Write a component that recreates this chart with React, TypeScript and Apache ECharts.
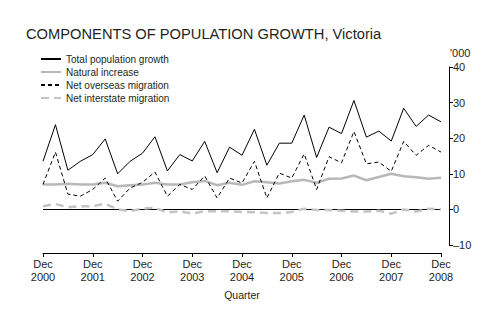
import React, { useEffect, useRef } from "react";
import * as echarts from "echarts";

const quarterNames = ["Mar", "Jun", "Sep", "Dec"];
const categories: string[] = ["Dec 2000"];
for (let y = 2001; y <= 2008; y++) {
  for (const q of quarterNames) categories.push(q + " " + y);
}

const totalGrowth = [13.5, 23.8, 11.0, 13.5, 15.4, 19.8, 10.0, 13.5, 15.8, 20.4, 10.8, 15.4, 13.6, 19.1, 10.3, 17.5, 15.2, 22.5, 12.4, 18.6, 18.6, 26.5, 14.6, 23.1, 21.3, 30.6, 20.3, 22.0, 19.2, 28.4, 23.3, 26.5, 24.6];
const naturalIncrease = [7.0, 7.0, 7.2, 7.0, 7.0, 7.5, 6.5, 6.8, 7.0, 7.5, 7.0, 7.0, 7.6, 8.0, 6.8, 7.5, 6.9, 7.9, 7.6, 7.3, 7.9, 8.3, 7.5, 8.6, 8.7, 9.5, 8.2, 9.1, 10.0, 9.3, 9.0, 8.6, 8.9];
const overseasMigration = [7.0, 16.1, 4.3, 3.7, 5.6, 8.8, 2.3, 6.0, 7.6, 10.5, 3.7, 7.0, 5.6, 9.4, 3.2, 8.8, 7.4, 13.5, 3.2, 10.2, 8.8, 15.6, 5.6, 14.8, 13.1, 21.9, 12.8, 13.3, 10.7, 19.1, 15.2, 18.0, 16.1];
const interstateMigration = [0.9, 1.5, 0.6, 0.9, 0.9, 1.6, 0.0, -0.5, 0.2, 0.5, -0.9, -0.5, -1.2, -0.5, -0.5, -0.5, -0.7, -0.8, -1.0, -1.0, -0.7, 0.2, -0.2, -0.2, -0.4, -0.6, -0.6, -0.4, -1.2, 0.0, -0.6, 0.2, 0.0];

const yTicks = { min: -10, max: 40, interval: 10 };

const FONT = "'Liberation Sans', Arial, sans-serif";
const TEXT = "#231f20";

export default function App() {
  const ref = useRef<HTMLDivElement>(null);
  useEffect(() => {
    if (!ref.current) return;
    const chart = echarts.init(ref.current, null, { renderer: "svg" });
    chart.setOption({
      animation: false,
      backgroundColor: "#ffffff",
      textStyle: { fontFamily: FONT, color: TEXT },
      grid: { left: 43, right: 55, top: 67, bottom: 76, containLabel: false },
      graphic: [
        {
          type: "text",
          left: 26,
          top: 26,
          style: {
            text: "COMPONENTS OF POPULATION GROWTH, Victoria",
            font: "14.7px " + FONT,
            fill: TEXT,
          },
        },
        {
          type: "text",
          left: 450,
          top: 47,
          style: { text: "'000", font: "11px " + FONT, fill: TEXT },
        },
      ],
      legend: {
        left: 40,
        top: 54,
        padding: 0,
        orient: "vertical",
        itemWidth: 20,
        itemHeight: 10,
        itemGap: 3,
        itemStyle: { opacity: 0 },
        textStyle: { fontSize: 10, color: TEXT, fontFamily: FONT },
        data: [
          "Total population growth",
          "Natural increase",
          "Net overseas migration",
          "Net interstate migration",
        ],
      },
      xAxis: {
        type: "category",
        data: categories,
        boundaryGap: false,
        offset: 8,
        name: "Quarter",
        nameLocation: "middle",
        nameGap: 36,
        nameTextStyle: { fontSize: 10.5, color: TEXT, fontFamily: FONT },
        axisLine: { show: true, onZero: false, lineStyle: { color: "#000", width: 1 } },
        axisTick: {
          show: true,
          length: 4,
          interval: (i: number) => i % 4 === 0,
          lineStyle: { color: "#000" },
        },
        axisLabel: {
          interval: (i: number) => i % 4 === 0,
          fontSize: 11,
          color: TEXT,
          lineHeight: 13,
          margin: 4,
          formatter: (v: string) => v.replace(" ", "\n"),
        },
        splitLine: { show: false },
      },
      yAxis: {
        type: "value",
        position: "right",
        min: yTicks.min,
        max: yTicks.max,
        interval: yTicks.interval,
        offset: 8,
        axisLine: { show: true, onZero: false, lineStyle: { color: "#000", width: 1 } },
        axisTick: { show: true, length: 4, lineStyle: { color: "#000" } },
        axisLabel: {
          fontSize: 11,
          color: TEXT,
          margin: 4,
          formatter: (v: number) => (v < 0 ? "\u2013" + Math.abs(v) : String(v)),
        },
        splitLine: {
          show: true,
          lineStyle: {
            width: 1,
            type: "solid",
            color: ["rgba(0,0,0,0)", "#000000", "rgba(0,0,0,0)", "rgba(0,0,0,0)", "rgba(0,0,0,0)", "rgba(0,0,0,0)"],
          },
        },
      },
      series: [
        {
          name: "Total population growth",
          type: "line",
          data: totalGrowth,
          symbol: "none",
          lineStyle: { color: "#000", width: 1 },
          itemStyle: { color: "#000" },
          z: 5,
        },
        {
          name: "Natural increase",
          type: "line",
          data: naturalIncrease,
          symbol: "none",
          lineStyle: { color: "#b8b8b8", width: 2.5 },
          itemStyle: { color: "#b8b8b8" },
          z: 3,
        },
        {
          name: "Net overseas migration",
          type: "line",
          data: overseasMigration,
          symbol: "none",
          lineStyle: { color: "#000", width: 1, type: [4, 3] },
          itemStyle: { color: "#000" },
          z: 4,
        },
        {
          name: "Net interstate migration",
          type: "line",
          data: interstateMigration,
          symbol: "none",
          lineStyle: { color: "#c4c4c4", width: 2.5, type: [8, 5] },
          itemStyle: { color: "#c4c4c4" },
          z: 2,
        },
      ],
    });
    return () => chart.dispose();
  }, []);
  return <div ref={ref} style={{ width: 496, height: 321, position: "absolute", left: 0, top: 0 }} />;
}
